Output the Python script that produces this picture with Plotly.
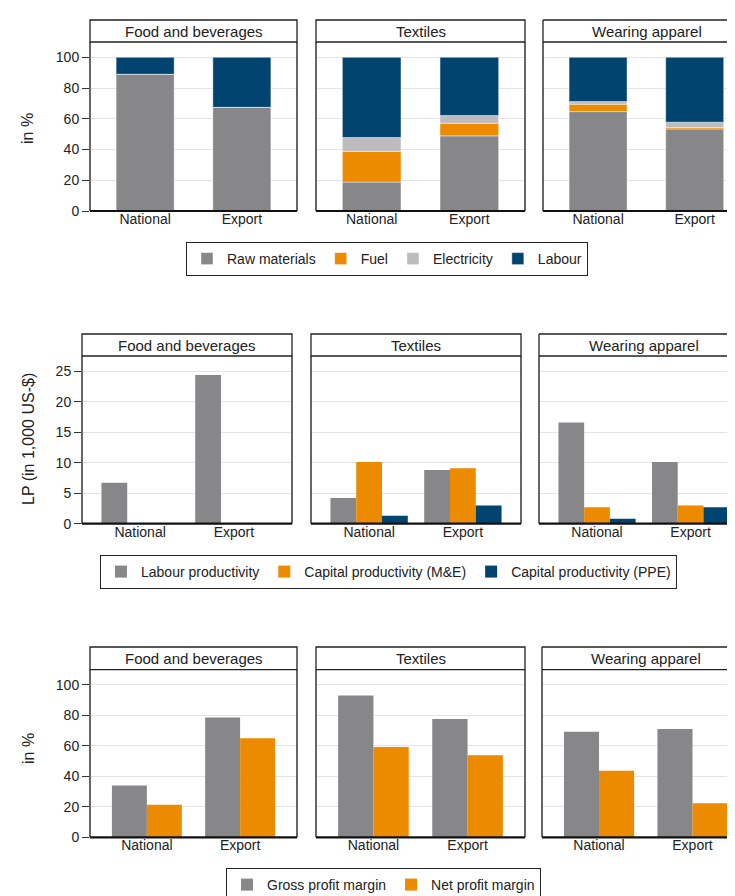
import plotly.graph_objects as go

W, H = 735, 896

categories = ["National", "Export"]
sectors = ["Food and beverages", "Textiles", "Wearing apparel"]

# Row 1: cost structure (in %), one list per sector [National, Export]
raw_materials = {"Food and beverages": [89.0, 67.5], "Textiles": [18.8, 48.9], "Wearing apparel": [64.7, 53.4]}
fuel = {"Food and beverages": [0.0, 0.0], "Textiles": [20.0, 8.2], "Wearing apparel": [4.8, 0.9]}
electricity = {"Food and beverages": [0.0, 0.0], "Textiles": [9.0, 5.0], "Wearing apparel": [1.7, 3.5]}
labour = {"Food and beverages": [11.0, 32.5], "Textiles": [52.2, 37.9], "Wearing apparel": [28.8, 42.2]}

# Row 2: productivity (in 1,000 US-$)
labour_prod = {"Food and beverages": [6.7, 24.4], "Textiles": [4.2, 8.8], "Wearing apparel": [16.6, 10.1]}
cap_prod_me = {"Food and beverages": [None, None], "Textiles": [10.1, 9.1], "Wearing apparel": [2.7, 3.0]}
cap_prod_ppe = {"Food and beverages": [None, None], "Textiles": [1.3, 3.0], "Wearing apparel": [0.8, 2.7]}

# Row 3: profit margins (in %)
gross_margin = {"Food and beverages": [34.0, 78.6], "Textiles": [93.0, 77.7], "Wearing apparel": [69.2, 71.1]}
net_margin = {"Food and beverages": [21.4, 65.0], "Textiles": [59.3, 53.9], "Wearing apparel": [43.6, 22.3]}

C_GRAY = "#87878a"
C_ORANGE = "#ec8a00"
C_LIGHT = "#bcbcbe"
C_NAVY = "#00446f"
TXT = "#222222"
FONT = "Liberation Sans, Arial, sans-serif"

# panel geometry (pixels)
rows_y = [(34, 203), (348, 515.7), (661.7, 829.3)]
rows_x = [
    [(82, 289), (308, 517), (535, 735)],
    [(74, 284), (303, 513), (531, 735)],
    [(82, 289), (308, 517), (534, 735)],
]
x_ranges = [
    ([-0.57, 1.57], [-0.57, 1.50]),
    ([-0.62, 1.62], [-0.62, 1.56]),
    ([-0.61, 1.61], [-0.61, 1.54]),
]
y_ranges = [[0, 110], [0, 27.5], [0, 110]]
y_ticks = [[0, 20, 40, 60, 80, 100], [0, 5, 10, 15, 20, 25], [0, 20, 40, 60, 80, 100]]
strip_px = [22, 22, 22.7]

fig = go.Figure()
layout = {}
shapes = []
annotations = []


def ax_id(r, c):
    return r * 3 + c + 1


for r in range(3):
    y0p, y1p = rows_y[r]
    for c in range(3):
        k = ax_id(r, c)
        xs = "" if k == 1 else str(k)
        x0p, x1p = rows_x[r][c]
        layout["xaxis" + xs] = dict(
            domain=[x0p / W, x1p / W],
            anchor="y" + xs,
            type="category",
            range=x_ranges[r][1] if c == 2 else x_ranges[r][0],
            showgrid=False, zeroline=False, showline=False, ticks="",
            tickfont=dict(size=14, color=TXT, family=FONT),
            ticklabelstandoff=-2,
            fixedrange=True,
        )
        layout["yaxis" + xs] = dict(
            domain=[1 - y1p / H, 1 - y0p / H],
            anchor="x" + xs,
            range=y_ranges[r],
            tickvals=y_ticks[r],
            showgrid=True, gridcolor="#e4e4e4", gridwidth=1,
            zeroline=False, showline=False,
            ticks="outside" if c == 0 else "",
            ticklen=7, tickcolor="#333333", tickwidth=1,
            showticklabels=(c == 0),
            tickfont=dict(size=14, color=TXT, family=FONT),
            fixedrange=True,
        )
        xr = ("x" + xs) + " domain"
        yr = ("y" + xs) + " domain"
        plot_h = y1p - y0p
        s = strip_px[r] / plot_h
        # panel borders
        shapes.append(dict(type="line", xref=xr, yref=yr, x0=0, x1=0, y0=0, y1=1,
                           line=dict(color="#333333", width=1.5)))
        if c != 2:
            shapes.append(dict(type="line", xref=xr, yref=yr, x0=1, x1=1, y0=0, y1=1,
                               line=dict(color="#333333", width=1.5)))
        shapes.append(dict(type="line", xref=xr, yref=yr, x0=0, x1=1, y0=0, y1=0,
                           line=dict(color="#111111", width=2.2)))
        # strip
        if c != 2:
            shapes.append(dict(type="rect", xref=xr, yref=yr, x0=0, x1=1, y0=1, y1=1 + s,
                               line=dict(color="#222222", width=1.3), fillcolor="white"))
        else:
            for (a0, a1, b0, b1) in [(0, 1, 1, 1), (0, 1, 1 + s, 1 + s), (0, 0, 1, 1 + s)]:
                shapes.append(dict(type="line", xref=xr, yref=yr, x0=a0, x1=a1, y0=b0, y1=b1,
                                   line=dict(color="#222222", width=1.3)))
        full_w = (x1p - x0p) if c != 2 else (rows_x[r][0][1] - rows_x[r][0][0])
        cx = 0.5 * full_w / (x1p - x0p)
        annotations.append(dict(text=sectors[c], xref=xr, yref=yr, x=cx, y=1 + s / 2,
                                xanchor="center", yanchor="middle", showarrow=False,
                                font=dict(size=15, color=TXT, family=FONT)))

# Row 1: stacked cost shares (overlay with cumulative bases)
row1_series = [("Raw materials", raw_materials, C_GRAY), ("Fuel", fuel, C_ORANGE),
               ("Electricity", electricity, C_LIGHT), ("Labour", labour, C_NAVY)]
for c, sec in enumerate(sectors):
    k = ax_id(0, c)
    xs = "" if k == 1 else str(k)
    base = [0.0, 0.0]
    for name, data, col in row1_series:
        vals = data[sec]
        fig.add_trace(go.Bar(
            x=categories, y=vals, base=list(base), name=name,
            marker=dict(color=col, line=dict(color="rgba(255,255,255,0.7)", width=0.6)),
            width=0.6, xaxis="x" + xs, yaxis="y" + xs,
            legend="legend", showlegend=(c == 0),
        ))
        base = [b + v for b, v in zip(base, vals)]

# Row 2: grouped productivity
row2_series = [("Labour productivity", labour_prod, C_GRAY, -0.4125),
               ("Capital productivity (M&E)", cap_prod_me, C_ORANGE, -0.1375),
               ("Capital productivity (PPE)", cap_prod_ppe, C_NAVY, 0.1375)]
for c, sec in enumerate(sectors):
    k = ax_id(1, c)
    xs = str(k)
    for name, data, col, off in row2_series:
        fig.add_trace(go.Bar(
            x=categories, y=data[sec], name=name, marker=dict(color=col, line=dict(width=0)),
            width=0.275, offset=off, xaxis="x" + xs, yaxis="y" + xs,
            legend="legend2", showlegend=(c == 1),
        ))

# Row 3: grouped profit margins
row3_series = [("Gross profit margin", gross_margin, C_GRAY, -0.375),
               ("Net profit margin", net_margin, C_ORANGE, 0.0)]
for c, sec in enumerate(sectors):
    k = ax_id(2, c)
    xs = str(k)
    for name, data, col, off in row3_series:
        fig.add_trace(go.Bar(
            x=categories, y=data[sec], name=name, marker=dict(color=col, line=dict(width=0)),
            width=0.375, offset=off, xaxis="x" + xs, yaxis="y" + xs,
            legend="legend3", showlegend=(c == 0),
        ))

# y axis titles
for text, ypx in [("in %", 121), ("LP (in 1,000 US-$)", 431), ("in %", 741)]:
    annotations.append(dict(text=text, xref="paper", yref="paper", x=20 / W, y=1 - ypx / H,
                            xanchor="center", yanchor="middle", textangle=-90, showarrow=False,
                            font=dict(size=16, color=TXT, family=FONT)))

legend_common = dict(orientation="h", xanchor="left", yanchor="top", bgcolor="white",
                     bordercolor="#222222", borderwidth=1,
                     font=dict(size=14, color=TXT, family=FONT), traceorder="normal")

fig.update_layout(
    **layout,
    width=W, height=H,
    margin=dict(l=0, r=0, t=0, b=0, autoexpand=False),
    paper_bgcolor="white", plot_bgcolor="white",
    barmode="overlay",
    font=dict(family=FONT, color=TXT),
    shapes=shapes, annotations=annotations,
    legend=dict(x=178 / W, y=1 - 234 / H, **legend_common),
    legend2=dict(x=92 / W, y=1 - 547 / H, **legend_common),
    legend3=dict(x=218 / W, y=1 - 860 / H, **legend_common),
)

fig.write_html("out.html")
